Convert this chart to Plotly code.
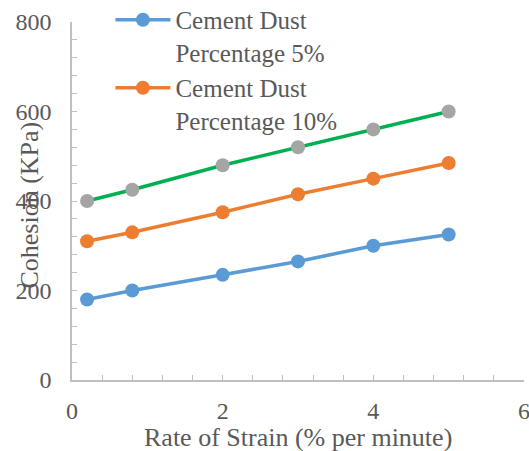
import plotly.graph_objects as go

strain = [0.2, 0.8, 2, 3, 4, 5]
cd5 = [180, 200, 235, 265, 300, 325]
cd10 = [310, 330, 375, 415, 450, 485]
cd15 = [400, 425, 480, 520, 560, 600]

names = ["Cement Dust<br>Percentage 5%", "Cement Dust<br>Percentage 10%"]
font = "Liberation Serif, Times New Roman, serif"
gray = "#595959"
axc = "#BFBFBF"

fig = go.Figure()
fig.add_trace(go.Scatter(x=strain, y=cd5, mode="lines+markers", name=names[0],
                         line=dict(color="#5B9BD5", width=3.5),
                         marker=dict(color="#5B9BD5", size=14)))
fig.add_trace(go.Scatter(x=strain, y=cd10, mode="lines+markers", name=names[1],
                         line=dict(color="#ED7D31", width=3.5),
                         marker=dict(color="#ED7D31", size=14)))
fig.add_trace(go.Scatter(x=strain, y=cd15, mode="lines+markers", name="Cement Dust Percentage 15%",
                         showlegend=False,
                         line=dict(color="#00B050", width=3.5),
                         marker=dict(color="#A5A5A5", size=14)))

fig.update_layout(
    width=529, height=451,
    margin=dict(l=72, r=5, t=22, b=71, autoexpand=False),
    paper_bgcolor="white", plot_bgcolor="white",
    font=dict(family=font, color=gray, size=20),
    showlegend=True,
    legend=dict(x=0.085, y=1.07, xanchor="left", yanchor="top",
                bgcolor="rgba(0,0,0,0)", valign="top",
                font=dict(family=font, size=25, color=gray),
                itemwidth=55, tracegroupgap=0),
    xaxis=dict(range=[0, 6], dtick=2, showgrid=False, zeroline=False,
               showline=True, linecolor=axc, linewidth=1.5, automargin=False,
               ticks="inside", ticklen=5, tickcolor=axc,
               minor=dict(dtick=0.4, ticks="inside", ticklen=5, tickcolor=axc),
               ticklabelstandoff=8, ticklabeloverflow="allow",
               tickfont=dict(family=font, size=24, color=gray)),
    yaxis=dict(range=[0, 800], dtick=200, showgrid=False, zeroline=False,
               showline=True, linecolor=axc, linewidth=1.5, automargin=False,
               ticks="inside", ticklen=5, tickcolor=axc,
               minor=dict(dtick=40, ticks="inside", ticklen=5, tickcolor=axc),
               ticklabelstandoff=14, ticklabeloverflow="allow",
               tickfont=dict(family=font, size=24, color=gray)),
    annotations=[
        dict(text="Cohesion (KPa)", textangle=-90, xref="paper", yref="paper",
             x=-0.093, y=0.49, xanchor="center", yanchor="middle", showarrow=False,
             font=dict(family=font, size=26, color=gray)),
        dict(text="Rate of Strain (% per minute)", xref="paper", yref="paper",
             x=0.5, y=-0.161, xanchor="center", yanchor="middle", showarrow=False,
             font=dict(family=font, size=26, color=gray)),
    ],
)

fig.write_html("out.html")
